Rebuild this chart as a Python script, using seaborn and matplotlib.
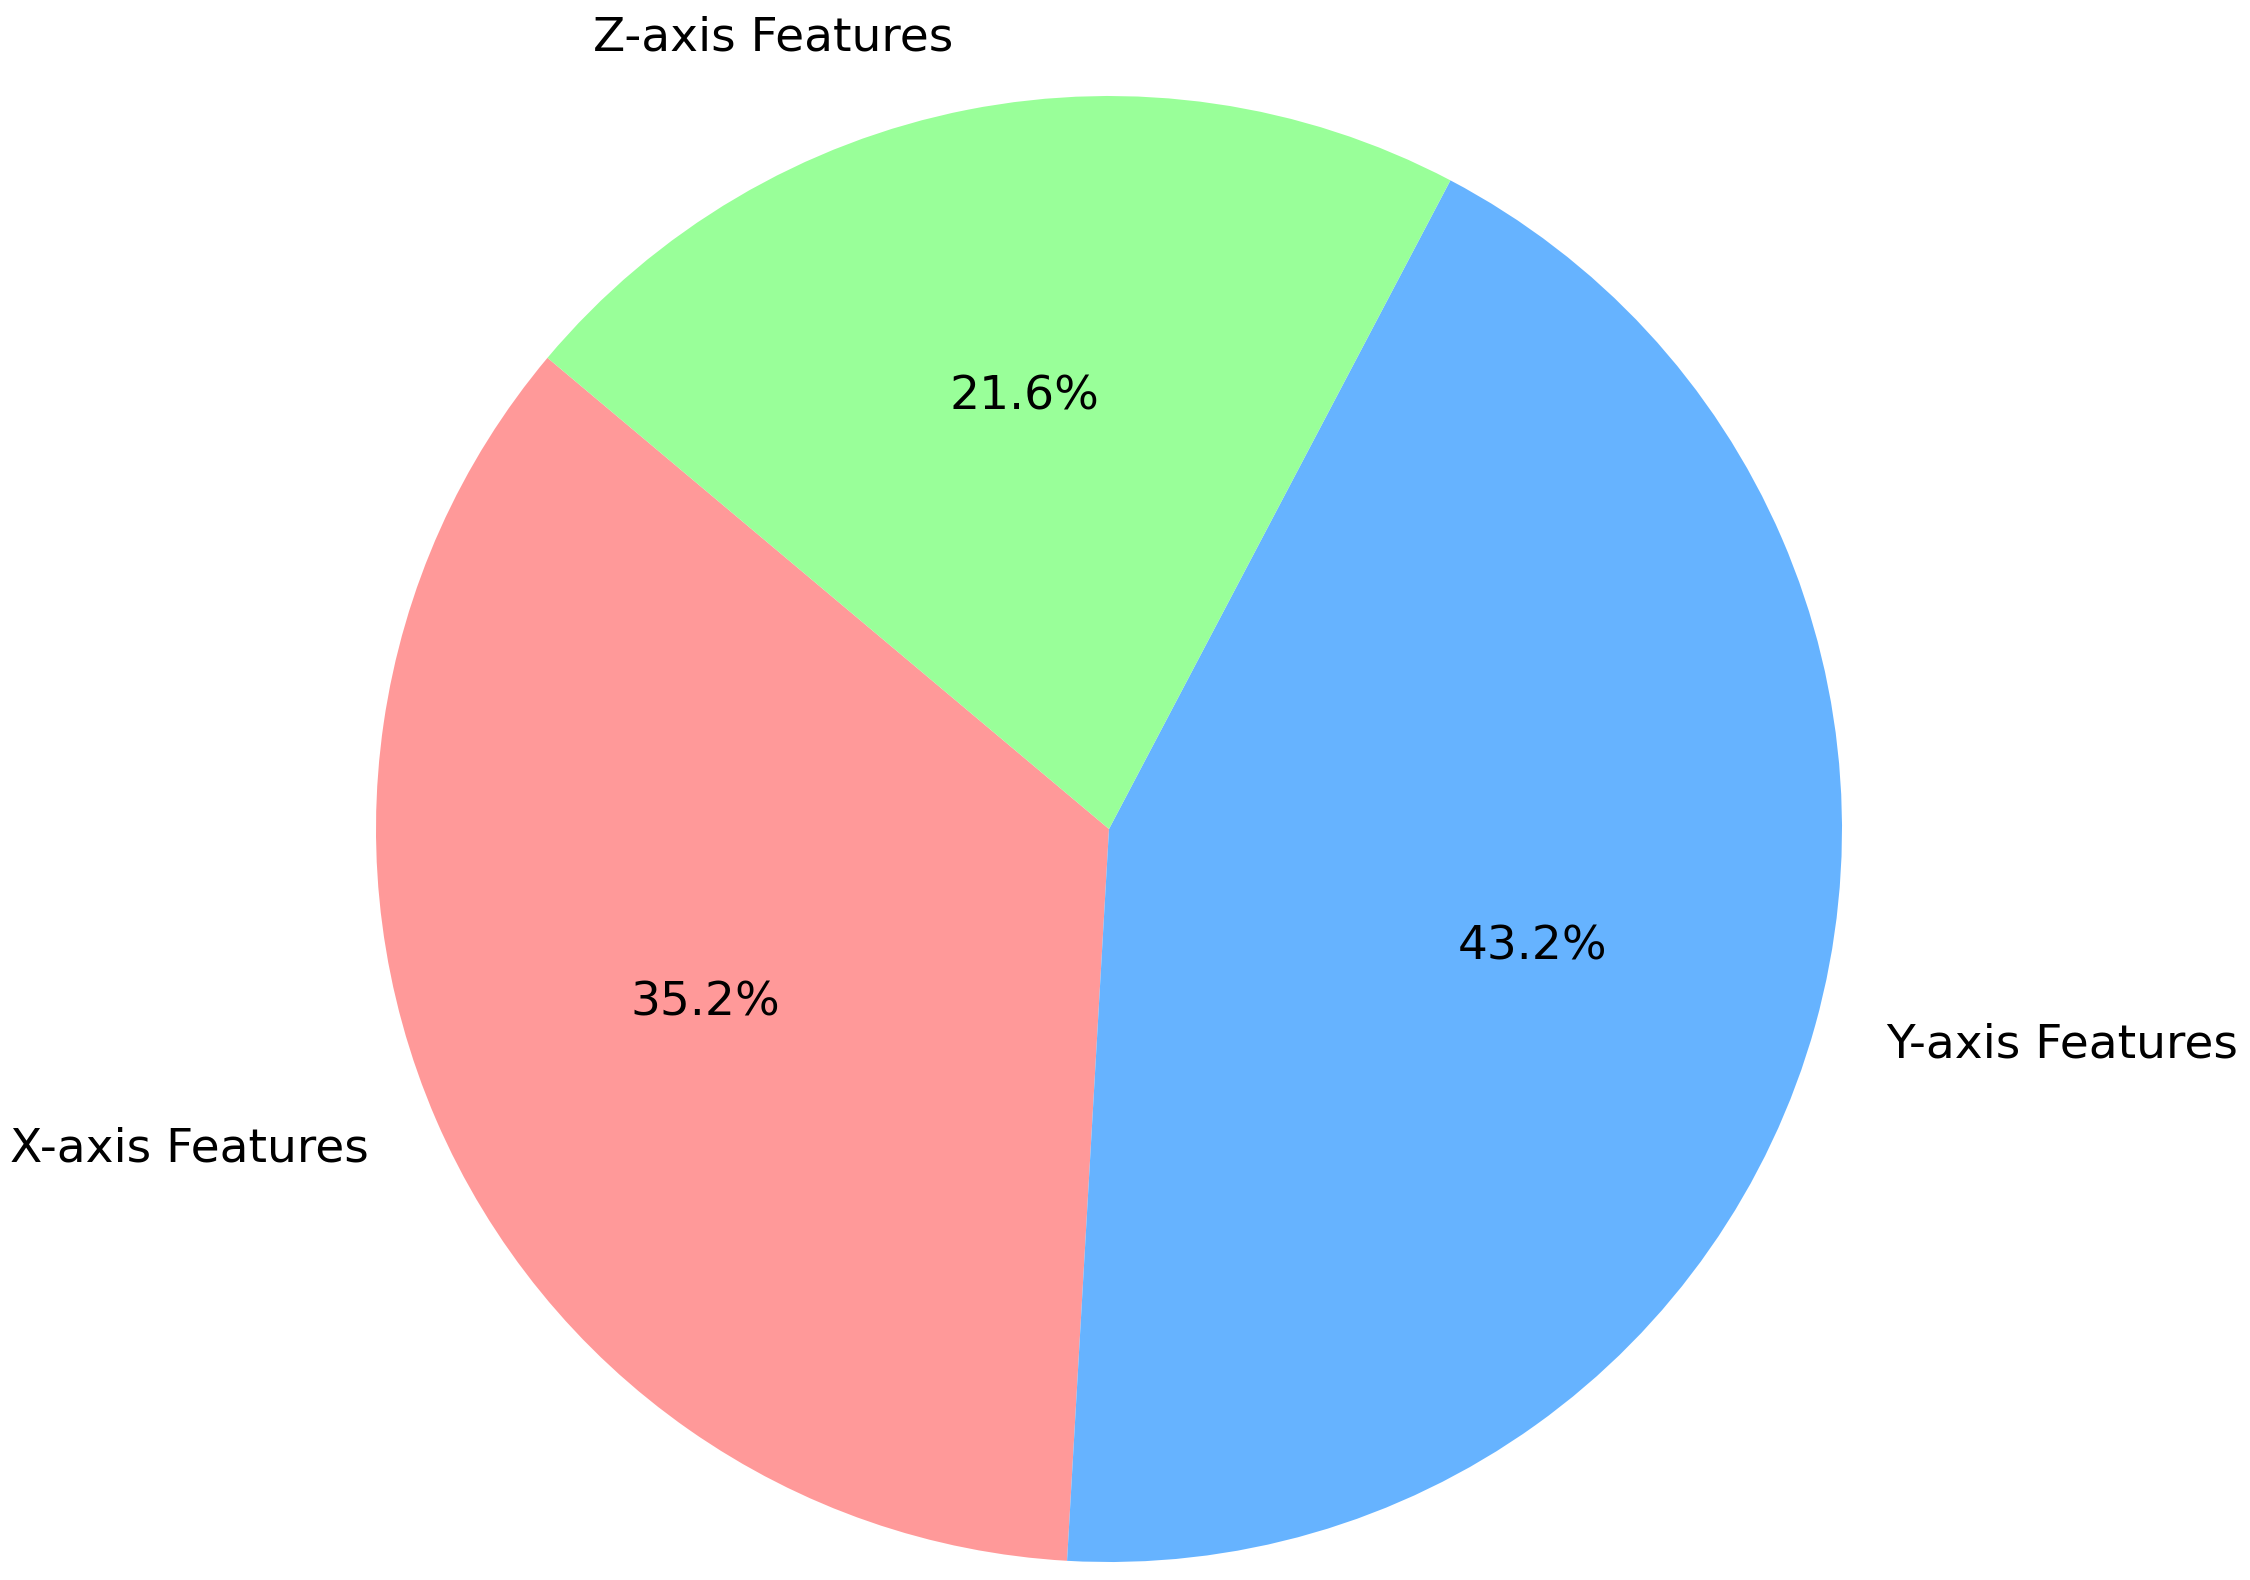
import matplotlib
matplotlib.use("Agg")
import matplotlib.pyplot as plt
import seaborn as sns

sns.set_style("white")
plt.rcParams['font.family'] = ['DejaVu Sans']

categories = ["X-axis Features", "Y-axis Features", "Z-axis Features"]
values = [44, 54, 27]
colors = ["#ff9999", "#66b3ff", "#99ff99"]

fig = plt.figure(figsize=(7.5, 1580/300), dpi=300)
ax = fig.add_axes([0, 0, 1, 1])
ax.pie(values, labels=categories, colors=colors, autopct="%1.1f%%",
       startangle=140, textprops={"fontsize": 11.3, "color": "black"},
       wedgeprops={"edgecolor": "none", "linewidth": 0})
ax.set_aspect("equal")
ax.set_xlim(-1109/733, (2250-1109)/733)
ax.set_ylim(-(1580-829)/733, 829/733)
ax.axis("off")
fig.savefig("out.png", dpi=300)
